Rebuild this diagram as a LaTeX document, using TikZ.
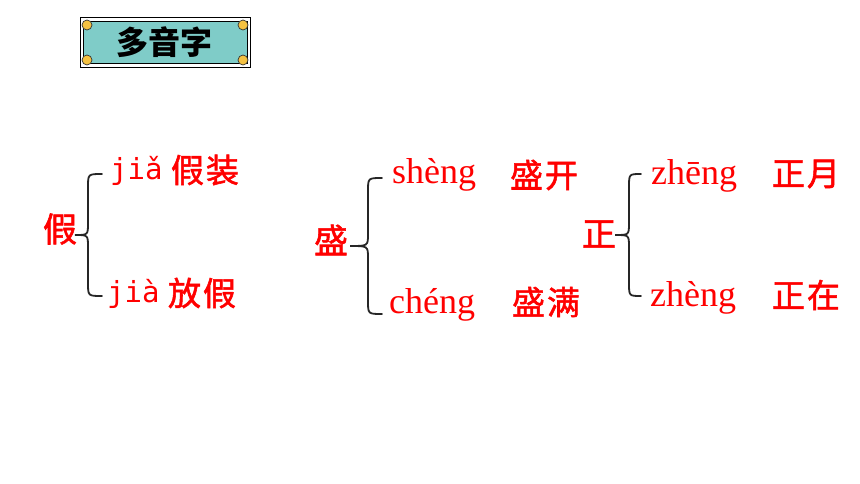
\documentclass[tikz,border=0pt]{standalone}
\usepackage{fontspec}
\usepackage{tikz}
\usetikzlibrary{positioning}
\newfontfamily\cjk{Noto Sans CJK SC}
\newfontfamily\cjkred[FakeBold=1.6, LetterSpace=6]{Noto Sans CJK SC}
\newfontfamily\pyserif{Liberation Serif}
\newfontfamily\pymono{DejaVu Sans Mono}
\definecolor{Teal}{HTML}{7FCCC8}
\definecolor{Gold}{HTML}{F5C242}
\colorlet{Red}{red}
\tikzset{
  head/.style={inner sep=0pt, text=Red, font=\cjkred\fontsize{34}{38}\selectfont},
  word/.style={inner sep=0pt, text=Red, font=\cjkred\fontsize{33}{38}\selectfont},
  pyroman/.style={inner sep=0pt, anchor=base west, text=Red, font=\pyserif\fontsize{36}{40}\selectfont},
  pymono/.style={inner sep=0pt, anchor=base west, text=Red, font=\pymono\fontsize{29}{32}\selectfont},
  curl/.style={draw=black!85, line width=1.8pt, line cap=round},
  dot/.style={circle, draw=black!80, fill=Gold, line width=0.7pt, inner sep=0pt, minimum size=10pt}
}
% arm x, stem x, tip x, top y, bottom y
\newcommand{\lcurl}[5]{%
  \draw[curl] (#1,#4) .. controls (#2,#4) .. (#2,{#4+13})
    -- (#2,{(#4+#5)/2-12}) .. controls (#2,{(#4+#5)/2}) .. (#3,{(#4+#5)/2})
    .. controls (#2,{(#4+#5)/2}) .. (#2,{(#4+#5)/2+12})
    -- (#2,{#5-13}) .. controls (#2,#5) .. (#1,#5);}
\begin{document}
\begin{tikzpicture}[x=1pt, y=-1pt]
        \useasboundingbox (0,0) rectangle (860,484);

        % title plate
        \draw[black, line width=0.9pt, fill=white] (80,17) rectangle (250,67);
        \draw[black, line width=0.9pt, fill=Teal] (83,21) rectangle (247,63);
        \node[dot] (c1) at (87,25) {};
        \node[dot] (c2) at (243,25) {};
        \node[dot] (c3) at (87,60) {};
        \node[dot] (c4) at (243,60) {};
        \node[inner sep=0pt, font=\cjk\bfseries\fontsize{32}{36}\selectfont] (title) at (164,42) {多音字};

        % jia
        \node[head] (Jia) at (60,229) {假};
        \node[pymono] (Jia1) at (110,180) {jiǎ};
        \node[word] (Jia1w) at (205,170) {假装};
        \node[pymono] (Jia2) at (107,302) {jià};
        \node[word] (Jia2w) at (202,293) {放假};
        \lcurl{102}{88}{75}{174}{296}

        % sheng
        \node[head] (Sheng) at (331,240) {盛};
        \node[pyroman] (Sheng1) at (392,184) {shèng};
        \node[word] (Sheng1w) at (544,175) {盛开};
        \node[pyroman] (Sheng2) at (389,313) {chéng};
        \node[word] (Sheng2w) at (546,302) {盛满};
        \lcurl{382}{368}{350}{178}{314}

        % zheng
        \node[head] (Zheng) at (599,234) {正};
        \node[pyroman] (Zheng1) at (651,185) {zhēng};
        \node[word] (Zheng1w) at (806,174) {正月};
        \node[pyroman] (Zheng2) at (650,306) {zhèng};
        \node[word] (Zheng2w) at (806,295) {正在};
        \lcurl{641}{629}{615}{174}{296}
\end{tikzpicture}
\end{document}
